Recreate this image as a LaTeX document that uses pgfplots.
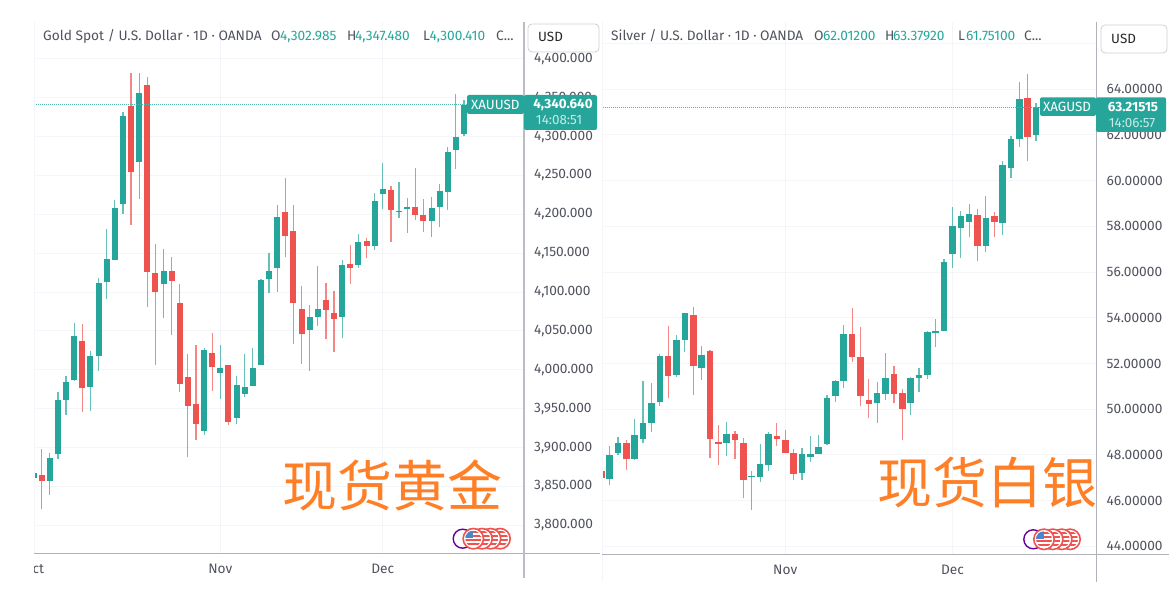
\documentclass[border=0pt]{standalone}
\usepackage{pgfplots}
\usepackage{pgfplotstable}
\usepackage{fontspec}
\pgfplotsset{compat=1.18}
\setmainfont{Fira Sans}
\newfontfamily\cjk{Noto Sans CJK SC}
\definecolor{up}{HTML}{26A69A}
\definecolor{down}{HTML}{EF5350}
\definecolor{lab}{HTML}{50535E}
\definecolor{gridc}{HTML}{F4F5F9}
\definecolor{cn}{HTML}{FF7F27}
\definecolor{spine}{HTML}{B0B1B9}
\definecolor{canton}{HTML}{4A86D0}
\pgfplotstableread{
x high low top bot
0 3866.8 3860.4 3866.8 3860.4
2 3892.5 3839.4 3887.0 3857.4
3 3971.0 3885.3 3961.2 3891.3
4 3992.0 3942.3 3984.7 3961.2
5 4059.8 3985.6 4043.0 3986.9
7 4023.7 3947.4 4017.8 3977.9
8 4117.6 3998.9 4111.2 4018.2
9 4180.7 4091.0 4142.9 4112.5
10 4218.8 4141.2 4208.1 4141.2
11 4331.5 4200.4 4326.4 4212.8
13 4382.1 4220.1 4356.0 4267.7
16 4154.9 4067.0 4126.6 4109.9
21 4028.0 3916.6 4025.0 3921.7
23 4031.5 3962.9 4001.9 3995.9
25 3991.6 3930.7 3980.9 3938.0
26 4019.9 3965.4 3977.4 3968.9
27 4028.0 3979.6 4001.9 3979.6
28 4116.8 4005.7 4115.9 4005.7
29 4149.8 4098.3 4126.6 4117.2
30 4212.4 4100.5 4196.1 4131.4
34 4083.3 3998.9 4067.9 4051.2
35 4133.5 4055.9 4078.6 4067.5
38 4140.8 4040.5 4134.8 4067.5
40 4174.2 4131.4 4164.4 4134.4
42 4227.0 4154.5 4216.7 4159.7
43 4265.5 4206.8 4232.5 4226.5
45 4241.5 4195.7 4203.8 4202.9
46 4220.5 4175.9 4209.4 4206.4
49 4222.2 4171.2 4208.1 4191.8
50 4239.4 4183.7 4229.5 4209.8
51 4286.1 4205.5 4279.7 4228.2
52 4354.3 4258.7 4299.4 4283.1
53 4347.48 4300.41 4340.64 4302.985
}\goldup
\pgfplotstableread{
x high low top bot
1 3897.7 3820.5 3864.7 3857.4
6 4058.9 3945.3 4037.0 3976.2
12 4381.3 4186.7 4338.8 4254.4
14 4376.1 4081.2 4366.3 4125.8
15 4161.8 4005.7 4124.9 4099.6
17 4144.6 4044.8 4126.6 4114.2
18 4109.9 3971.9 4085.9 3982.2
19 4020.8 3887.4 3990.3 3953.4
20 4031.5 3909.3 3956.0 3930.7
22 4046.9 3973.2 4022.0 4003.2
24 4006.2 3929.4 4005.7 3932.4
31 4246.2 4145.5 4203.4 4172.1
32 4212.0 4033.6 4178.1 4086.3
33 4107.4 4007.9 4078.6 4046.0
36 4111.2 4039.6 4089.3 4077.3
37 4101.8 4023.3 4073.4 4065.3
39 4160.1 4110.8 4135.6 4130.5
41 4169.1 4143.4 4165.7 4159.2
44 4236.8 4164.8 4231.7 4205.5
47 4260.0 4192.7 4209.8 4199.1
48 4219.7 4176.8 4199.1 4190.9
}\golddown
\pgfplotstableread{
x high low top bot
1 48.37 46.68 47.99 46.93
2 48.78 47.98 48.53 48.09
4 49.55 47.78 48.89 47.82
5 51.24 48.50 49.40 48.71
6 51.13 49.01 50.29 49.40
7 52.40 50.15 52.31 50.31
9 53.26 51.41 53.03 51.50
10 54.23 52.49 54.22 53.03
12 52.78 51.28 52.37 51.80
15 49.46 47.96 48.91 48.50
18 47.28 45.58 47.08 47.02
19 48.47 46.83 47.59 47.05
20 48.98 47.30 48.91 47.57
24 48.28 46.92 48.02 47.19
25 48.81 47.67 48.05 47.91
26 48.88 48.02 48.33 48.02
27 50.60 48.44 50.51 48.49
28 51.27 50.32 51.24 50.57
29 53.69 50.92 53.28 51.25
33 51.19 49.39 50.73 50.25
34 52.48 50.41 51.35 50.68
37 51.43 49.74 51.35 50.25
38 51.79 50.74 51.50 51.38
39 53.44 51.33 53.37 51.50
40 53.95 52.74 53.41 53.32
41 56.56 53.40 56.42 53.40
42 58.87 56.20 58.02 56.80
43 58.66 56.62 58.46 57.92
44 59.00 57.55 58.53 58.21
46 59.35 56.90 58.37 57.16
48 60.86 57.61 60.68 58.17
49 61.96 60.12 61.81 60.56
50 64.32 61.48 63.56 61.81
52 63.3792 61.751 63.21515 62.012
}\silverup
\pgfplotstableread{
x high low top bot
0 47.31 46.99 47.31 46.99
3 48.65 47.34 48.50 47.82
8 53.62 50.49 52.31 51.47
11 54.48 50.63 54.12 51.88
13 52.60 47.86 52.53 48.68
14 49.33 47.57 48.55 48.49
16 49.03 47.83 48.91 48.65
17 48.72 46.12 48.53 46.92
21 49.38 48.40 48.84 48.71
22 49.11 48.07 48.63 48.07
23 48.24 46.90 48.08 47.16
30 54.42 52.08 53.31 52.30
31 53.59 50.12 52.30 50.58
32 51.33 49.60 50.39 50.22
35 51.89 50.26 51.53 50.68
36 50.89 48.66 50.70 50.01
45 58.76 56.47 58.52 57.16
47 58.63 57.52 58.46 58.18
51 64.69 60.84 63.62 61.91
}\silverdown
\pgfplotsset{
  tv/.style={
    scale only axis, axis line style={draw=none},
    major tick length=0pt, tick style={draw=none},
    grid=major, grid style={gridc, line width=1pt},
    enlargelimits=false, clip=true,
    yticklabel pos=right,
    tick label style={font=\fontsize{13.7}{15}\selectfont, text=lab},
    yticklabel style={anchor=west, inner sep=0pt, xshift=10pt},
    xticklabel style={anchor=center, inner sep=0pt, yshift=-15.7pt},
    /pgf/number format/assume math mode=true,
  },
  wick/.style={forget plot, draw=none, mark=none,
    error bars/y dir=plus, error bars/y explicit, error bars/error mark=none,
    error bars/error bar style={line width=1.2pt, draw=#1, draw opacity=.7}},
  body/.style 2 args={forget plot, draw=none, mark=none,
    error bars/y dir=plus, error bars/y explicit, error bars/error mark=none,
    error bars/error bar style={line width=#2pt, draw=#1}},
}
\newcommand\candles[3]{%
  \addplot[wick=#2] table[x=x,y=low,y error plus expr=\thisrow{high}-\thisrow{low}]{#1};
  \addplot[body={#2}{#3}] table[x=x,y=bot,y error plus expr=\thisrow{top}-\thisrow{bot}]{#1};
}
\newcommand\usflag[2]{%
  \begin{scope}[shift={(#1,#2)}]
    \fill[white] (0,0) circle (10.5);
    \draw[line width=1.6pt, down] (0,0) circle (10.2);
    \begin{scope}
      \clip (0,0) circle (8);
      \fill[white] (-8,-8) rectangle (8,8);
      \foreach \s in {-7.5,-3.5,0.5,4.5}{\fill[down] (-8,\s) rectangle (8,\s+2.2);}
      \fill[canton] (-8,-8) rectangle (-0.5,-0.5);
    \end{scope}
  \end{scope}}
\newcommand\hdr[3][lab]{\node[anchor=base west, inner sep=0pt, text=#1, font=\fontsize{13.7}{15}\selectfont] at (#2,41) {#3};}
\begin{document}
\begin{tikzpicture}
\path[use as bounding box] (0pt,0pt) rectangle (1171pt,593pt);
\begin{axis}[tv, at={(34pt,39.7pt)}, anchor=south west, width=490pt, height=531.3pt,
  xmin=0.05, xmax=60.39, ymin=3764, ymax=4447.3,
  xtick={23,43}, xticklabels={Nov,Dec},
  ytick={3800,3850,...,4400},
  yticklabel style={/pgf/number format/.cd, fixed, fixed zerofill, precision=3, 1000 sep={,}}]
\candles{\goldup}{up}{6}
\candles{\golddown}{down}{6}
\addplot[up!80!white, line width=.9pt, dash pattern=on .9pt off 1.1pt, forget plot] coordinates {(0.05,4340.64) (60.39,4340.64)};
\end{axis}
\begin{axis}[tv, at={(602.7pt,38.7pt)}, anchor=south west, width=493.8pt, height=532.3pt,
  xmin=0.17, xmax=59.23, ymin=43.65, ymax=66.945,
  xtick={22,42}, xticklabels={Nov,Dec},
  ytick={44,46,...,66},
  yticklabel style={/pgf/number format/.cd, fixed, fixed zerofill, precision=5, 1000 sep={}}]
\candles{\silverup}{up}{6.6}
\candles{\silverdown}{down}{6.6}
\addplot[up!80!white, line width=.9pt, dash pattern=on .9pt off 1.1pt, forget plot] coordinates {(0.17,63.21515) (59.23,63.21515)};
\end{axis}
\begin{scope}[shift={(0pt,593pt)}, x=1pt, y=-1pt]
% frame
\draw[gridc, line width=1pt] (34.5,22) -- (34.5,553);
\draw[gridc, line width=1pt] (602,22) -- (602,582);
\draw[spine, line width=1pt] (34,553.3) -- (600,553.3);
\draw[spine, line width=1pt] (602,554.3) -- (1169,554.3);
\draw[spine!85!white, line width=1.8pt] (524,22) -- (524,578);
\draw[spine, line width=1pt] (1096.4,22) -- (1096.4,582);
% Oct label, cut by the pane edge
\begin{scope}
\clip (34,558) rectangle (60,580);
\node[inner sep=0pt, text=lab, font=\fontsize{13.7}{15}\selectfont] at (33.6,569) {Oct};
\end{scope}
% watermarks
\node[text=cn, font=\cjk\fontsize{55}{60}\selectfont, inner sep=0pt] at (392.5,485) {现货黄金};
\node[text=cn, font=\cjk\fontsize{55}{60}\selectfont, inner sep=0pt] at (987.5,483) {现货白银};
% flags
\draw[line width=1.4pt, violet!80!blue] (462.7,538.7) circle (9.5);
\usflag{500}{538.7}\usflag{490.5}{538.7}\usflag{482}{538.7}\usflag{473.3}{538.7}
\draw[line width=1.4pt, violet!80!blue] (1033.3,539.3) circle (9.5);
\usflag{1070}{539.3}\usflag{1061.7}{539.3}\usflag{1052.7}{539.3}\usflag{1044}{539.3}
% price tags
\fill[up, rounded corners=2pt] (467,95) rectangle (524,114);
\fill[up, rounded corners=2pt] (524,95) rectangle (597,130);
\node[text=white, font=\fontsize{13.4}{15}\selectfont, inner sep=0pt] at (495.3,105) {XAUUSD};
\node[text=white, font=\bfseries\fontsize{13.4}{15}\selectfont, inner sep=0pt] at (563,105) {4,340.640};
\node[text=white!75!up, font=\fontsize{13.4}{15}\selectfont, inner sep=0pt] at (559,120.5) {14:08:51};
\fill[up, rounded corners=2pt] (1040,97.3) rectangle (1096,116);
\fill[up, rounded corners=2pt] (1096,97.3) rectangle (1166,132);
\node[text=white, font=\fontsize{13.4}{15}\selectfont, inner sep=0pt] at (1067,107) {XAGUSD};
\node[text=white, font=\bfseries\fontsize{13.4}{15}\selectfont, inner sep=0pt] at (1133,107) {63.21515};
\node[text=white!75!up, font=\fontsize{13.4}{15}\selectfont, inner sep=0pt] at (1132,123) {14:06:57};
% unit buttons
\draw[gridc!85!black, fill=white, rounded corners=4pt, line width=.8pt] (528,24) rectangle (599,52);
\node[anchor=base west, inner sep=0pt, text=black!85, font=\fontsize{13.4}{15}\selectfont] at (538,42) {USD};
\draw[gridc!85!black, fill=white, rounded corners=4pt, line width=.8pt] (1101,25) rectangle (1167,53);
\node[anchor=base west, inner sep=0pt, text=black!85, font=\fontsize{13.4}{15}\selectfont] at (1111,44) {USD};
% headers
\hdr{43}{Gold Spot / U.S. Dollar · 1D · OANDA}
\hdr{271}{O}\hdr[up]{280}{4,302.985}\hdr{347}{H}\hdr[up]{355}{4,347.480}\hdr{423}{L}\hdr[up]{429.5}{4,300.410}\hdr{496}{C...}
\hdr{611}{Silver / U.S. Dollar · 1D · OANDA}
\hdr{814}{O}\hdr[up]{823}{62.01200}\hdr{885}{H}\hdr[up]{893}{63.37920}\hdr{958}{L}\hdr[up]{966}{61.75100}\hdr{1024}{C...}
\end{scope}
\end{tikzpicture}
\end{document}
